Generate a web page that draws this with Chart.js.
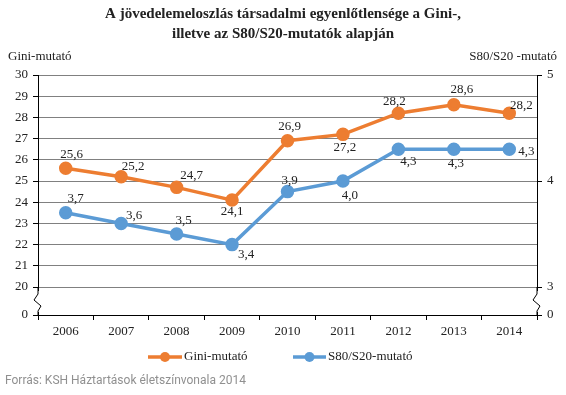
<!DOCTYPE html>
<html>
<head>
<meta charset="utf-8">
<script src="https://cdn.jsdelivr.net/npm/chart.js@4.4.0/dist/chart.umd.min.js"></script>
<style>
  html, body { margin: 0; padding: 0; background: #fff; }
  #wrap { width: 566px; height: 395px; }
</style>
</head>
<body>
<div id="wrap"><canvas id="giniChart" width="566" height="395"></canvas></div>
<script>
const years = ['2006', '2007', '2008', '2009', '2010', '2011', '2012', '2013', '2014'];
const giniValues = [25.6, 25.2, 24.7, 24.1, 26.9, 27.2, 28.2, 28.6, 28.2];
const s80s20Values = [3.7, 3.6, 3.5, 3.4, 3.9, 4.0, 4.3, 4.3, 4.3];
const giniTicks = [20, 21, 22, 23, 24, 25, 26, 27, 28, 29, 30];
const s80s20Ticks = [3, 4, 5];

// broken axes: the lowest position stands for "0"
const GINI_BREAK = 18.68;
const S80_BREAK = 2.736;

// where each value label sits relative to its point
const giniLabelPos = [[6, -14], [12, -10], [15, -12], [0, 11], [2, -14], [2, 13], [-4, -12], [8, -15], [12, -8]];
const s80LabelPos = [[10, -14], [13, -8], [7, -13], [14, 10], [2, -11], [7, 15], [10, 12], [2, 14], [17, 2]];

const ORANGE = '#ED7D31';
const BLUE = '#5B9BD5';
const SERIF = '"Liberation Serif", "DejaVu Serif", serif';

const fmt = v => v.toFixed(1).replace('.', ',');

const extras = {
    id: 'extras',
    afterDraw(chart) {
        const c = chart.ctx;
        const area = chart.chartArea;
        c.save();

        // title
        c.fillStyle = '#222';
        c.font = 'bold 15px ' + SERIF;
        c.textAlign = 'center';
        c.textBaseline = 'middle';
        c.fillText('A jövedelemeloszlás társadalmi egyenlőtlensége a Gini-,', 283, 14);
        c.fillText('illetve az S80/S20-mutatók alapján', 283, 34);

        // axis titles
        c.font = '13px ' + SERIF;
        c.textAlign = 'left';
        c.fillText('Gini-mutató', 8, 57);
        c.textAlign = 'right';
        c.fillText('S80/S20 -mutató', 557, 57);

        // axis breaks
        const yl = chart.scales.y;
        const y20 = yl.getPixelForValue(20);
        [area.left, area.right].forEach(x => {
            c.fillStyle = '#fff';
            c.fillRect(x - 2, y20 + 4, 4, area.bottom - y20 - 7);
            c.strokeStyle = '#000';
            c.lineWidth = 1;
            c.beginPath();
            c.moveTo(x, y20);
            c.lineTo(x, y20 + 7);
            c.lineTo(x - 4, y20 + 13);
            c.lineTo(x + 3, y20 + 19);
            c.lineTo(x, y20 + 24);
            c.lineTo(x, area.bottom);
            c.stroke();
        });

        // legend
        const items = [
            { text: 'Gini-mutató', color: ORANGE, x0: 148, x1: 182 },
            { text: 'S80/S20-mutató', color: BLUE, x0: 293, x1: 326 }
        ];
        items.forEach(it => {
            c.strokeStyle = it.color;
            c.lineWidth = 3.5;
            c.beginPath();
            c.moveTo(it.x0, 357);
            c.lineTo(it.x1, 357);
            c.stroke();
            c.fillStyle = it.color;
            c.beginPath();
            c.arc((it.x0 + it.x1) / 2, 357, 5, 0, Math.PI * 2);
            c.fill();
            c.fillStyle = '#222';
            c.font = '13px ' + SERIF;
            c.textAlign = 'left';
            c.textBaseline = 'middle';
            c.fillText(it.text, it.x1 + 2, 357);
        });

        // source
        c.fillStyle = '#909090';
        c.font = '12px Roboto, "Liberation Sans", sans-serif';
        c.textAlign = 'left';
        c.fillText('Forrás: KSH Háztartások életszínvonala 2014', 5, 381);

        c.restore();
    },
    afterDatasetsDraw(chart) {
        const c = chart.ctx;
        const positions = [giniLabelPos, s80LabelPos];
        c.save();
        c.font = '13px ' + SERIF;
        c.fillStyle = '#222';
        c.textAlign = 'center';
        c.textBaseline = 'middle';
        chart.data.datasets.forEach((ds, i) => {
            const meta = chart.getDatasetMeta(i);
            meta.data.forEach((pt, j) => {
                const off = positions[i][j];
                c.fillText(fmt(ds.data[j]), pt.x + off[0], pt.y + off[1]);
            });
        });
        c.restore();
    }
};

new Chart(document.getElementById('giniChart'), {
    type: 'line',
    data: {
        labels: years,
        datasets: [
            {
                label: 'Gini-mutató',
                data: giniValues,
                yAxisID: 'y',
                borderColor: ORANGE,
                backgroundColor: ORANGE,
                borderWidth: 3.5,
                pointRadius: 5,
                pointHoverRadius: 5,
                tension: 0
            },
            {
                label: 'S80/S20-mutató',
                data: s80s20Values,
                yAxisID: 'y1',
                borderColor: BLUE,
                backgroundColor: BLUE,
                borderWidth: 3.5,
                pointRadius: 5,
                pointHoverRadius: 5,
                tension: 0
            }
        ]
    },
    options: {
        responsive: false,
        animation: false,
        layout: { padding: { top: 75, bottom: 50, left: 0, right: 0 } },
        plugins: {
            legend: { display: false },
            tooltip: { enabled: false }
        },
        scales: {
            x: {
                offset: true,
                grid: { offset: true, drawOnChartArea: false, tickLength: 5, tickColor: '#000' },
                border: { color: '#000' },
                ticks: { color: '#222', font: { family: SERIF, size: 13 }, padding: 4, maxRotation: 0 },
                afterFit(scale) { scale.height = 30; }
            },
            y: {
                position: 'left',
                min: GINI_BREAK,
                max: 30,
                afterBuildTicks(scale) {
                    scale.ticks = [GINI_BREAK].concat(giniTicks).map(v => ({ value: v }));
                },
                grid: { color: '#808080', tickLength: 5, tickColor: '#000' },
                border: { color: '#000' },
                ticks: {
                    color: '#222',
                    font: { family: SERIF, size: 13 },
                    padding: 5,
                    callback: v => (v < 20 ? '0' : String(v))
                },
                afterFit(scale) { scale.width = 38; }
            },
            y1: {
                position: 'right',
                min: S80_BREAK,
                max: 5,
                afterBuildTicks(scale) {
                    scale.ticks = [S80_BREAK].concat(s80s20Ticks).map(v => ({ value: v }));
                },
                grid: { drawOnChartArea: false, tickLength: 5, tickColor: '#000' },
                border: { color: '#000' },
                ticks: {
                    color: '#222',
                    font: { family: SERIF, size: 13 },
                    padding: 5,
                    callback: v => (v < 3 ? '0' : String(v))
                },
                afterFit(scale) { scale.width = 29; }
            }
        }
    },
    plugins: [extras]
});
</script>
</body>
</html>
